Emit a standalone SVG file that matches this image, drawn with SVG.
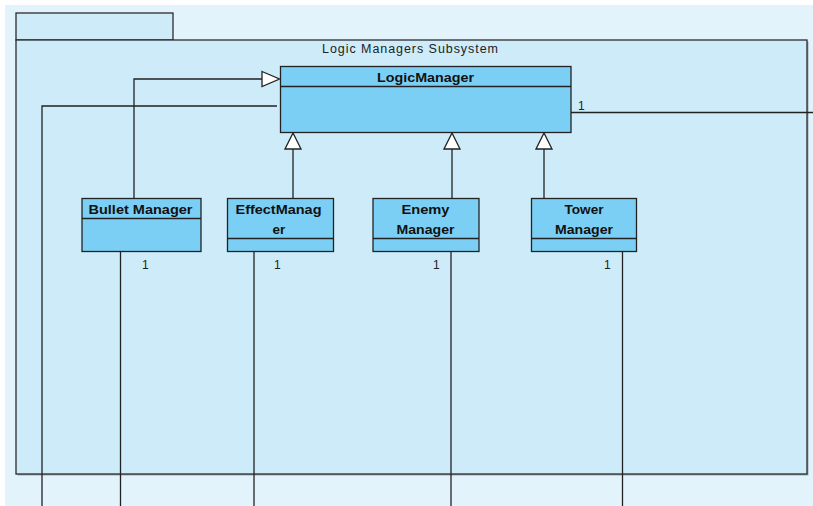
<svg xmlns="http://www.w3.org/2000/svg" width="813" height="506" viewBox="0 0 813 506">
  <defs>
    <style>
      .pkg { fill: #cdebf9; stroke: #2b2b2b; stroke-width: 1.3; }
      .cls { fill: #7ccff4; stroke: #222; stroke-width: 1.3; }
      .div { stroke: #222; stroke-width: 1.3; fill: none; }
      .edge { stroke: #222; stroke-width: 1.3; fill: none; }
      .head { fill: #ffffff; stroke: #222; stroke-width: 1.3; }
      .title { font-family: "Liberation Sans", Arial, sans-serif; font-size: 13.5px; font-weight: bold; fill: #111; text-anchor: middle; }
      .plabel { font-family: "Liberation Sans", Arial, sans-serif; font-size: 12.5px; fill: #222; text-anchor: middle; }
      .mult { font-family: "Liberation Sans", Arial, sans-serif; font-size: 12px; fill: #222; }
    </style>
  </defs>

  <!-- canvas -->
  <rect x="0" y="0" width="813" height="506" fill="#ffffff"/>
  <rect x="5" y="5" width="808" height="501" fill="#e3f3fc"/>

  <!-- package -->
  <g id="logic-managers-subsystem">
    <rect x="17.5" y="41.5" width="791" height="434" fill="#9aa9b1"/>
    <rect x="16" y="13" width="157" height="27" class="pkg"/>
    <rect x="16" y="40" width="791" height="434" class="pkg"/>
    <text x="410" y="52.5" class="plabel" textLength="176" lengthAdjust="spacing">Logic Managers Subsystem</text>
  </g>

  <!-- connectors -->
  <g id="connectors">
    <!-- generalizations -->
    <polyline class="edge" points="134,198 134,79 262,79"/>
    <polygon class="head" points="262,71.5 279.5,79 262,86.5"/>
    <line class="edge" x1="293" y1="198" x2="293" y2="149"/>
    <polygon class="head" points="285,149 293,133 301,149"/>
    <line class="edge" x1="452" y1="198" x2="452" y2="149"/>
    <polygon class="head" points="444,149 452,133 460,149"/>
    <line class="edge" x1="544" y1="198" x2="544" y2="149"/>
    <polygon class="head" points="536,149 544,133 552,149"/>

    <!-- associations -->
    <polyline class="edge" points="277,106 42,106 42,506"/>
    <line class="edge" x1="571" y1="112.5" x2="813" y2="112.5"/>
    <text x="578" y="110" class="mult">1</text>

    <line class="edge" x1="120.5" y1="251" x2="120.5" y2="506"/>
    <text x="142" y="269" class="mult">1</text>
    <line class="edge" x1="254" y1="251" x2="254" y2="506"/>
    <text x="274" y="269" class="mult">1</text>
    <line class="edge" x1="451" y1="251" x2="451" y2="506"/>
    <text x="433" y="269" class="mult">1</text>
    <line class="edge" x1="622.5" y1="251" x2="622.5" y2="506"/>
    <text x="604" y="269" class="mult">1</text>
  </g>

  <!-- classes -->
  <g id="logic-manager">
    <rect x="280.5" y="66.5" width="290.5" height="66" class="cls"/>
    <line x1="280.5" y1="86.5" x2="571" y2="86.5" class="div"/>
    <text x="425.5" y="81.5" class="title" textLength="97" lengthAdjust="spacingAndGlyphs">LogicManager</text>
  </g>

  <g id="bullet-manager">
    <rect x="82" y="198.5" width="119" height="53" class="cls"/>
    <line x1="82" y1="218.5" x2="201" y2="218.5" class="div"/>
    <text x="140.5" y="214" class="title" textLength="104" lengthAdjust="spacingAndGlyphs">Bullet Manager</text>
  </g>

  <g id="effect-manager">
    <rect x="227.5" y="198.5" width="106" height="53" class="cls"/>
    <line x1="227.5" y1="238.5" x2="333.5" y2="238.5" class="div"/>
    <text x="278.5" y="214" class="title" textLength="86" lengthAdjust="spacingAndGlyphs">EffectManag</text>
    <text x="279" y="234" class="title">er</text>
  </g>

  <g id="enemy-manager">
    <rect x="373" y="198.5" width="106" height="53" class="cls"/>
    <line x1="373" y1="238.5" x2="479" y2="238.5" class="div"/>
    <text x="425.5" y="214" class="title" textLength="48" lengthAdjust="spacingAndGlyphs">Enemy</text>
    <text x="425.5" y="234" class="title" textLength="58" lengthAdjust="spacingAndGlyphs">Manager</text>
  </g>

  <g id="tower-manager">
    <rect x="531.5" y="198.5" width="105" height="53" class="cls"/>
    <line x1="531.5" y1="238.5" x2="636.5" y2="238.5" class="div"/>
    <text x="584" y="214" class="title" textLength="39" lengthAdjust="spacingAndGlyphs">Tower</text>
    <text x="584" y="234" class="title" textLength="58" lengthAdjust="spacingAndGlyphs">Manager</text>
  </g>
</svg>
